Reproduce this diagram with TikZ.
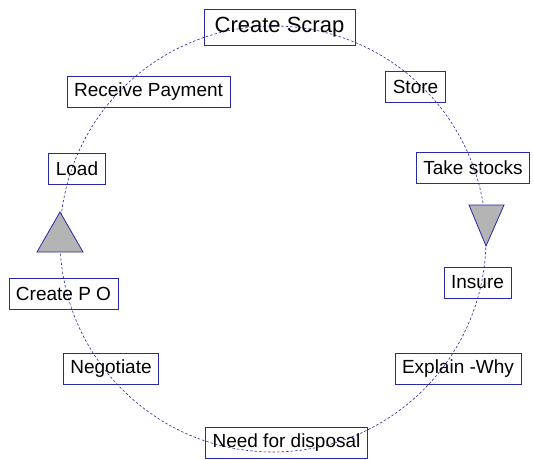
\documentclass[tikz,border=0pt]{standalone}
\usepackage{fontspec}
\setmainfont{Liberation Sans}
\definecolor{boxblue}{RGB}{40,40,170}
\definecolor{arrowgrey}{RGB}{180,180,180}
\tikzstyle{Cycle} = [
    boxblue,
    line width = 0.6pt,
    dash pattern = on 2.5pt off 2pt
]
\tikzstyle{Pointer} = [
    draw = boxblue,
    fill = arrowgrey,
    line width = 0.8pt,
    line join = miter
]

\begin{document}
\begin{tikzpicture}[
x = 1pt, y = -1pt,
stepbox/.style={
    draw = boxblue,
    line width = 0.8pt,
    font = \fontsize{19}{19}\selectfont,
    inner xsep = 7pt,
    minimum height = 31pt
    },
titlebox/.style={
    stepbox,
    font = \fontsize{22}{22}\selectfont,
    minimum width = 151pt,
    minimum height = 36pt
    }
]
\useasboundingbox (0,0) rectangle (533,459);

\coordinate (ctr) at (273,239);

% the cycle
\draw[Cycle] (ctr) circle [radius = 213pt];

\node[titlebox] (scrap) at (279.5,27) {Create Scrap};
\node[stepbox] (store) at (415.5,86.5) {Store};
\node[stepbox] (stocks) at (473,167.5) {Take stocks};
\node[stepbox] (insure) at (477.5,282.5) {Insure};
\node[stepbox] (why) at (458,369) {Explain -Why};
\node[stepbox] (need) at (286.5,443) {Need for disposal};
\node[stepbox] (negotiate) at (111,368.5) {Negotiate};
\node[stepbox] (po) at (63.5,294) {Create P O};
\node[stepbox] (load) at (77,168.5) {Load};
\node[stepbox] (payment) at (148.5,92) {Receive Payment};

% direction marks
\coordinate (up) at (60,212);
\coordinate (down) at (486,246);
\draw[Pointer] (up) -- ++(-23,40) -- ++(46,0) -- cycle;
\draw[Pointer] (down) -- ++(-17,-41) -- ++(35,0) -- cycle;

\end{tikzpicture}
\end{document}
